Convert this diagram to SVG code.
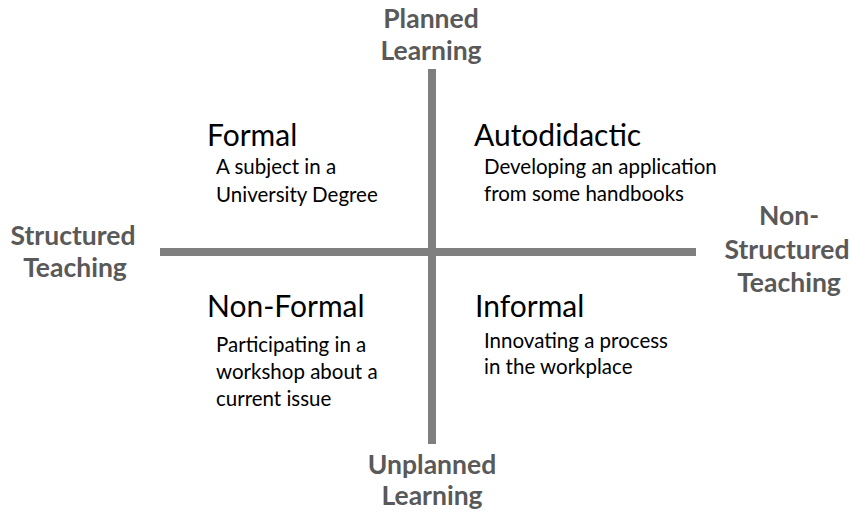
<svg xmlns="http://www.w3.org/2000/svg" width="850" height="513" viewBox="0 0 850 513">
  <style>
    .axis-label { font-family: Lato, "Open Sans", "Liberation Sans", sans-serif; font-weight: bold; font-size: 26.5px; fill: #595959; text-anchor: middle; }
    .title { font-family: Lato, "Open Sans", "Liberation Sans", sans-serif; font-size: 30px; fill: #000; }
    .desc { font-family: Lato, "Open Sans", "Liberation Sans", sans-serif; font-size: 20.5px; fill: #000; }
    .axis { stroke: #7f7f7f; stroke-width: 8; }
  </style>
  <rect width="850" height="513" fill="#fff"/>

  <!-- Axes -->
  <g id="axes">
    <line class="axis" x1="432" y1="69" x2="432" y2="444"/>
    <line class="axis" x1="160" y1="252" x2="696" y2="252"/>
  </g>

  <!-- Axis end labels -->
  <g id="planned-learning">
    <text class="axis-label" x="431" y="28">Planned</text>
    <text class="axis-label" x="431" y="60">Learning</text>
  </g>
  <g id="unplanned-learning">
    <text class="axis-label" x="432" y="474">Unplanned</text>
    <text class="axis-label" x="432" y="505">Learning</text>
  </g>
  <g id="structured-teaching">
    <text class="axis-label" x="73" y="245">Structured</text>
    <text class="axis-label" x="75" y="277">Teaching</text>
  </g>
  <g id="non-structured-teaching">
    <text class="axis-label" x="789" y="225">Non-</text>
    <text class="axis-label" x="787" y="259">Structured</text>
    <text class="axis-label" x="789" y="292">Teaching</text>
  </g>

  <!-- Quadrants -->
  <g id="formal">
    <text class="title" x="207" y="146">Formal</text>
    <text class="desc" x="216" y="174">A subject in a</text>
    <text class="desc" x="216" y="202">University Degree</text>
  </g>
  <g id="autodidactic">
    <text class="title" x="474" y="146">Autodidactic</text>
    <text class="desc" x="484" y="174">Developing an application</text>
    <text class="desc" x="484" y="201">from some handbooks</text>
  </g>
  <g id="non-formal">
    <text class="title" x="207" y="317">Non-Formal</text>
    <text class="desc" x="216" y="352">Participating in a</text>
    <text class="desc" x="216" y="379">workshop about a</text>
    <text class="desc" x="216" y="406">current issue</text>
  </g>
  <g id="informal">
    <text class="title" x="475" y="317">Informal</text>
    <text class="desc" x="484" y="348">Innovating a process</text>
    <text class="desc" x="484" y="374">in the workplace</text>
  </g>
</svg>
